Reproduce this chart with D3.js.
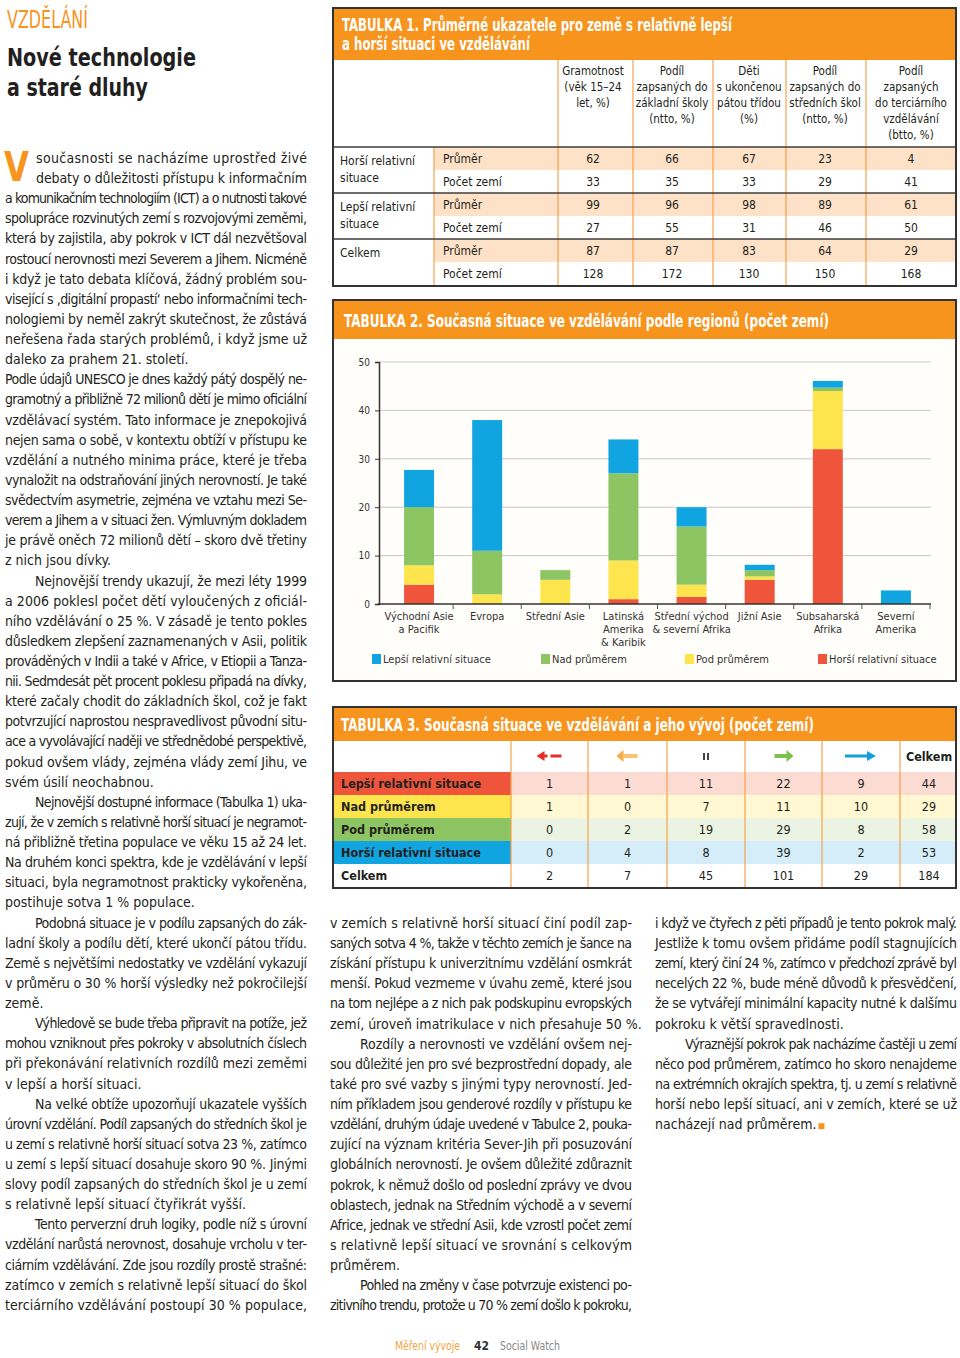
<!DOCTYPE html>
<html><head><meta charset="utf-8">
<script src="https://cdn.jsdelivr.net/npm/d3@7"></script>
<style>
html,body{margin:0;padding:0;background:#fff;}
svg{display:block;}
text{font-family:'Liberation Sans Narrow','Arial Narrow','Nimbus Sans Narrow','DejaVu Sans Condensed',sans-serif;font-stretch:condensed;}
</style></head><body>
<svg id="page" width="960" height="1358"></svg>
<script>
// ---------- DATA ----------
// Tabulka 2 (stacked bars, počet zemí)
const regionLabels = [["Východní Asie","a Pacifik"],["Evropa"],["Střední Asie"],["Latinská","Amerika","& Karibik"],["Střední východ","& severní Afrika"],["Jižní Asie"],["Subsaharská","Afrika"],["Severní","Amerika"]];
const worseVals  = [4, 0, 0, 1, 1.5, 5, 32, 0];     // Horší relativní situace (red)
const belowVals  = [4, 2, 5, 8, 2.5, 0.7, 12, 0];   // Pod průměrem (yellow)
const aboveVals  = [12, 9, 2, 18, 12, 1.3, 0.7, 0]; // Nad průměrem (green)
const betterVals = [7.7, 27, 0, 7, 4, 1.1, 1.4, 2.8]; // Lepší relativní situace (blue)
const yTicks = [0,10,20,30,40,50];
const legendLabels = ["Lepší relativní situace","Nad průměrem","Pod průměrem","Horší relativní situace"];

// Tabulka 1
const t1Headers = [["Gramotnost","(věk 15–24","let, %)"],["Podíl","zapsaných do","základní školy","(ntto, %)"],["Děti","s ukončenou","pátou třídou","(%)"],["Podíl","zapsaných do","středních škol","(ntto, %)"],["Podíl","zapsaných","do terciárního","vzdělávání","(btto, %)"]];
const t1Groups = [["Horší relativní","situace"],["Lepší relativní","situace"],["Celkem"]];
const t1Avg   = [[62,66,67,23,4],[99,96,98,89,61],[87,87,83,64,29]];
const t1Count = [[33,35,33,29,41],[27,55,31,46,50],[128,172,130,150,168]];

// Tabulka 3
const t3Rows = ["Lepší relativní situace","Nad průměrem","Pod průměrem","Horší relativní situace"];
const t3Values = [[1,1,11,22,9,44],[1,0,7,11,10,29],[0,2,19,29,8,58],[0,4,8,39,2,53]];
const t3Totals = [2,7,45,101,29,184];

// ---------- STYLE ----------
const ORANGE = "#F7941E", RED = "#EE553B", YELLOW = "#FEE54E", GREEN = "#8DC563", BLUE = "#10A4E0";
const DARK = "#231F20";
const svg = d3.select("#page");
svg.append("rect").attr("width",960).attr("height",1358).attr("fill","#fff");

// ---------- HEADER ----------
svg.append("text").attr("x",7).attr("y",28).attr("font-size",25).attr("fill",ORANGE)
  .attr("textLength",81).attr("lengthAdjust","spacingAndGlyphs").text("VZDĚLÁNÍ");
svg.append("text").attr("x",7).attr("y",66).attr("font-size",25.5).attr("font-weight","bold").attr("fill",DARK)
  .attr("textLength",189).attr("lengthAdjust","spacingAndGlyphs").text("Nové technologie");
svg.append("text").attr("x",7).attr("y",96).attr("font-size",25.5).attr("font-weight","bold").attr("fill",DARK)
  .attr("textLength",141).attr("lengthAdjust","spacingAndGlyphs").text("a staré dluhy");

// ---------- BODY TEXT ----------
const colLeft = [
 {indent:0, drop:true, lines:["současnosti se nacházíme uprostřed živé","debaty o důležitosti přístupu k informačním","a komunikačním technologiím (ICT) a o nutnosti takové","spolupráce rozvinutých zemí s rozvojovými zeměmi,","která by zajistila, aby pokrok v ICT dál nezvětšoval","rostoucí nerovnosti mezi Severem a Jihem. Nicméně","i když je tato debata klíčová, žádný problém sou-","visející s ‚digitální propastí‘ nebo informačními tech-","nologiemi by neměl zakrýt skutečnost, že zůstává","neřešena řada starých problémů, i když jsme už","daleko za prahem 21. století."]},
 {indent:0, lines:["Podle údajů UNESCO je dnes každý pátý dospělý ne-","gramotný a přibližně 72 milionů dětí je mimo oficiální","vzdělávací systém. Tato informace je znepokojivá","nejen sama o sobě, v kontextu obtíží v přístupu ke","vzdělání a nutného minima práce, které je třeba","vynaložit na odstraňování jiných nerovností. Je také","svědectvím asymetrie, zejména ve vztahu mezi Se-","verem a Jihem a v situaci žen. Výmluvným dokladem","je právě oněch 72 milionů dětí – skoro dvě třetiny","z nich jsou dívky."]},
 {indent:30, lines:["Nejnovější trendy ukazují, že mezi léty 1999","a 2006 poklesl počet dětí vyloučených z oficiál-","ního vzdělávání o 25 %. V zásadě je tento pokles","důsledkem zlepšení zaznamenaných v Asii, politik","prováděných v Indii a také v Africe, v Etiopii a Tanza-","nii. Sedmdesát pět procent poklesu připadá na dívky,","které začaly chodit do základních škol, což je fakt","potvrzující naprostou nespravedlivost původní situ-","ace a vyvolávající naději ve střednědobé perspektivě,","pokud ovšem vlády, zejména vlády zemí Jihu, ve","svém úsilí neochabnou."]},
 {indent:30, lines:["Nejnovější dostupné informace (Tabulka 1) uka-","zují, že v zemích s relativně horší situací je negramot-","ná přibližně třetina populace ve věku 15 až 24 let.","Na druhém konci spektra, kde je vzdělávání v lepší","situaci, byla negramotnost prakticky vykořeněna,","postihuje sotva 1 % populace."]},
 {indent:30, lines:["Podobná situace je v podílu zapsaných do zák-","ladní školy a podílu dětí, které ukončí pátou třídu.","Země s největšími nedostatky ve vzdělání vykazují","v průměru o 30 % horší výsledky než pokročilejší","země."]},
 {indent:30, lines:["Výhledově se bude třeba připravit na potíže, jež","mohou vzniknout přes pokroky v absolutních číslech","při překonávání relativních rozdílů mezi zeměmi","v lepší a horší situaci."]},
 {indent:30, lines:["Na velké obtíže upozorňují ukazatele vyšších","úrovní vzdělání. Podíl zapsaných do středních škol je","u zemí s relativně horší situací sotva 23 %, zatímco","u zemí s lepší situací dosahuje skoro 90 %. Jinými","slovy podíl zapsaných do středních škol je u zemí","s relativně lepší situací čtyřikrát vyšší."]},
 {indent:30, cont:true, lines:["Tento perverzní druh logiky, podle níž s úrovní","vzdělání narůstá nerovnost, dosahuje vrcholu v ter-","ciárním vzdělávání. Zde jsou rozdíly prostě strašné:","zatímco v zemích s relativně lepší situací do škol","terciárního vzdělávání postoupí 30 % populace,"]}
];
const colMid = [
 {indent:0, lines:["v zemích s relativně horší situací činí podíl zap-","saných sotva 4 %, takže v těchto zemích je šance na","získání přístupu k univerzitnímu vzdělání osmkrát","menší. Pokud vezmeme v úvahu země, které jsou","na tom nejlépe a z nich pak podskupinu evropských","zemí, úroveň imatrikulace v nich přesahuje 50 %."]},
 {indent:30, lines:["Rozdíly a nerovnosti ve vzdělání ovšem nej-","sou důležité jen pro své bezprostřední dopady, ale","také pro své vazby s jinými typy nerovností. Jed-","ním příkladem jsou genderové rozdíly v přístupu ke","vzdělání, druhým údaje uvedené v Tabulce 2, pouka-","zující na význam kritéria Sever-Jih při posuzování","globálních nerovností. Je ovšem důležité zdůraznit","pokrok, k němuž došlo od poslední zprávy ve dvou","oblastech, jednak na Středním východě a v severní","Africe, jednak ve střední Asii, kde vzrostl počet zemí","s relativně lepší situací ve srovnání s celkovým","průměrem."]},
 {indent:30, cont:true, lines:["Pohled na změny v čase potvrzuje existenci po-","zitivního trendu, protože u 70 % zemí došlo k pokroku,"]}
];
const colRight = [
 {indent:0, lines:["i když ve čtyřech z pěti případů je tento pokrok malý.","Jestliže k tomu ovšem přidáme podíl stagnujících","zemí, který činí 24 %, zatímco v předchozí zprávě byl","necelých 22 %, bude méně důvodů k přesvědčení,","že se vytvářejí minimální kapacity nutné k dalšímu","pokroku k větší spravedlnosti."]},
 {indent:30, end:true, lines:["Výraznější pokrok pak nacházíme častěji u zemí","něco pod průměrem, zatímco ho skoro nenajdeme","na extrémních okrajích spektra, tj. u zemí s relativně","horší nebo lepší situací, ani v zemích, které se už","nacházejí nad průměrem."]}
];

function drawColumn(paras, x0, x1, yBase) {
  const g = svg.append("g");
  let li = 0;
  paras.forEach(p => {
    p.lines.forEach((ln, k) => {
      const last = (k === p.lines.length - 1) && !p.cont;
      let ind = (k === 0) ? p.indent : 0;
      if (p.drop && k < 2) ind = 31;
      const t = g.append("text").attr("x", x0 + ind).attr("y", yBase + li * 20.12)
        .attr("font-size", 14).attr("fill", DARK).text(ln);
      if (!last) t.attr("textLength", x1 - x0 - ind).attr("lengthAdjust", "spacing");
      if (last && p.end) {
        const w = t.node().getComputedTextLength();
        g.append("rect").attr("x", x0 + ind + w + 2).attr("y", yBase + li*20.12 - 6).attr("width",6).attr("height",6).attr("fill",ORANGE);
      }
      li++;
    });
  });
}
drawColumn(colLeft, 5, 307, 163);
drawColumn(colMid, 330, 632, 928);
drawColumn(colRight, 655, 957, 928);
// drop cap
svg.append("text").attr("x",4).attr("y",180.5).attr("font-size",40).attr("font-weight","bold").attr("fill",ORANGE)
  .attr("textLength",25).attr("lengthAdjust","spacingAndGlyphs").text("V");

// ---------- TABLE 1 ----------
(function(){
  const g = svg.append("g");
  const L = 333, R = 956, T = 8, B = 286;
  g.append("rect").attr("x",L).attr("y",T).attr("width",R-L).attr("height",B-T).attr("fill","#fff");
  g.append("rect").attr("x",L).attr("y",T).attr("width",R-L).attr("height",52).attr("fill",ORANGE);
  g.append("text").attr("x",342).attr("y",31).attr("font-size",17).attr("font-weight","bold").attr("fill","#fff")
    .attr("textLength",390).attr("lengthAdjust","spacingAndGlyphs").text("TABULKA 1. Průměrné ukazatele pro země s relativně lepší");
  g.append("text").attr("x",342).attr("y",50).attr("font-size",17).attr("font-weight","bold").attr("fill","#fff")
    .attr("textLength",188).attr("lengthAdjust","spacingAndGlyphs").text("a horší situaci ve vzdělávání");
  const seps = [558, 633, 713, 786, 866];
  const centers = [593, 672, 749, 825, 911];
  const rowTop = 147, rh = 23;
  t1Groups.forEach((grp, gi) => {
    g.append("rect").attr("x",434).attr("y",rowTop + gi*2*rh).attr("width",R-434).attr("height",rh).attr("fill","#FDE2C8");
  });
  seps.forEach(s => g.append("line").attr("x1",s).attr("x2",s).attr("y1",60).attr("y2",B).attr("stroke","#F5A24B").attr("stroke-width",1.2));
  g.append("line").attr("x1",434).attr("x2",434).attr("y1",rowTop).attr("y2",B).attr("stroke","#F5A24B").attr("stroke-width",1.2);
  t1Headers.forEach((h, ci) => {
    h.forEach((ln, k) => g.append("text").attr("x",centers[ci]).attr("y",75 + k*16).attr("text-anchor","middle")
      .attr("font-size",11.5).attr("fill",DARK).text(ln));
  });
  t1Groups.forEach((grp, gi) => {
    const gy = rowTop + gi*2*rh;
    grp.forEach((ln,k) => g.append("text").attr("x",340).attr("y",gy + 18 + k*17).attr("font-size",12).attr("fill",DARK).text(ln));
    ["Průměr","Počet zemí"].forEach((lab, r) => {
      g.append("text").attr("x",443).attr("y",gy + r*rh + 16).attr("font-size",12).attr("fill",DARK).text(lab);
      const vals = r === 0 ? t1Avg[gi] : t1Count[gi];
      vals.forEach((v, ci) => g.append("text").attr("x",centers[ci]).attr("y",gy + r*rh + 16).attr("text-anchor","middle")
        .attr("font-size",12).attr("fill",DARK).text(v));
    });
    g.append("line").attr("x1",L).attr("x2",R).attr("y1",gy).attr("y2",gy).attr("stroke","#3c3c3c").attr("stroke-width",1.5);
  });
  g.append("rect").attr("x",L).attr("y",T).attr("width",R-L).attr("height",B-T).attr("fill","none").attr("stroke","#333").attr("stroke-width",2);
})();

// ---------- TABLE 2 (CHART) ----------
(function(){
  const g = svg.append("g");
  const L = 333, R = 956, T = 300, B = 681;
  g.append("rect").attr("x",L).attr("y",T).attr("width",R-L).attr("height",B-T).attr("fill","#FFFEFA");
  g.append("rect").attr("x",L).attr("y",T).attr("width",R-L).attr("height",39).attr("fill",ORANGE);
  g.append("text").attr("x",344).attr("y",327).attr("font-size",17).attr("font-weight","bold").attr("fill","#fff")
    .attr("textLength",485).attr("lengthAdjust","spacingAndGlyphs").text("TABULKA 2. Současná situace ve vzdělávání podle regionů (počet zemí)");

  const rows = regionLabels.map((r,i) => ({i, worse:worseVals[i], below:belowVals[i], above:aboveVals[i], better:betterVals[i]}));
  const keys = ["worse","below","above","better"];
  const colors = {worse:RED, below:YELLOW, above:GREEN, better:BLUE};
  const x = d3.scaleBand().domain(d3.range(regionLabels.length)).range([385,930]).paddingInner(0.56).paddingOuter(0.28);
  const y = d3.scaleLinear().domain([0,50]).range([604,362]);

  g.append("g").selectAll("line").data(yTicks.filter(d=>d>0)).join("line")
    .attr("x1",379).attr("x2",931).attr("y1",d=>y(d)).attr("y2",d=>y(d)).attr("stroke","#c9c9c9").attr("stroke-width",1);

  const series = d3.stack().keys(keys)(rows);
  g.append("g").selectAll("g").data(series).join("g").attr("fill",d=>colors[d.key])
    .selectAll("rect").data(d=>d).join("rect")
    .attr("x",d=>x(d.data.i)).attr("width",x.bandwidth())
    .attr("y",d=>y(d[1])).attr("height",d=>Math.max(0,y(d[0])-y(d[1])));

  const ya = g.append("g").attr("transform","translate(379,0)")
    .call(d3.axisLeft(y).tickValues(yTicks).tickSize(4).tickPadding(5));
  ya.select(".domain").attr("stroke","#333").attr("stroke-width",1.5);
  ya.selectAll(".tick line").attr("stroke","#333");
  ya.selectAll(".tick text").attr("font-size",10).attr("fill","#333")
    .style("font-family","'Liberation Sans Narrow','Arial Narrow','DejaVu Sans Condensed',sans-serif");
  g.append("line").attr("x1",378).attr("x2",931).attr("y1",y(0)).attr("y2",y(0)).attr("stroke","#333").attr("stroke-width",1.5);
  const bounds = d3.range(1, regionLabels.length + 1).map(k => x.range()[0] + k*x.step());
  g.append("g").selectAll("line").data(bounds).join("line")
    .attr("x1",d=>d).attr("x2",d=>d).attr("y1",y(0)).attr("y2",y(0)+5).attr("stroke","#555");
  regionLabels.forEach((lab,i) => {
    lab.forEach((ln,k) => g.append("text").attr("x",x(i)+x.bandwidth()/2).attr("y",620 + k*13)
      .attr("text-anchor","middle").attr("font-size",11).attr("fill","#333").text(ln));
  });
  const legX = [372, 541, 685, 818];
  const legC = [BLUE, GREEN, YELLOW, RED];
  legendLabels.forEach((lab,i) => {
    g.append("rect").attr("x",legX[i]).attr("y",654).attr("width",9).attr("height",10).attr("fill",legC[i]);
    g.append("text").attr("x",legX[i]+11).attr("y",663).attr("font-size",11).attr("fill","#333").text(lab);
  });
  g.append("rect").attr("x",L).attr("y",T).attr("width",R-L).attr("height",B-T).attr("fill","none").attr("stroke","#333").attr("stroke-width",2);
})();

// ---------- TABLE 3 ----------
(function(){
  const g = svg.append("g");
  const L = 333, R = 956, T = 707, B = 888;
  g.append("rect").attr("x",L).attr("y",T).attr("width",R-L).attr("height",B-T).attr("fill","#fff");
  g.append("rect").attr("x",L).attr("y",T).attr("width",R-L).attr("height",34).attr("fill",ORANGE);
  g.append("text").attr("x",341).attr("y",731).attr("font-size",17).attr("font-weight","bold").attr("fill","#fff")
    .attr("textLength",473).attr("lengthAdjust","spacingAndGlyphs").text("TABULKA 3. Současná situace ve vzdělávání a jeho vývoj (počet zemí)");
  const seps = [511, 588, 667, 745, 822, 900];
  const centers = [549.5, 627.5, 706, 783.5, 861, 929];
  const rowTop = 772, rh = 23;
  const labFill = [RED, YELLOW, GREEN, BLUE];
  const rowFill = ["#FCDCD2", "#FFF8D2", "#EBF4E2", "#D4EDF9"];
  t3Rows.forEach((lab, ri) => {
    const ry = rowTop + ri*rh;
    g.append("rect").attr("x",L).attr("y",ry).attr("width",511-L).attr("height",rh).attr("fill",labFill[ri]);
    g.append("rect").attr("x",511).attr("y",ry).attr("width",R-511).attr("height",rh).attr("fill",rowFill[ri]);
  });
  seps.forEach(s => g.append("line").attr("x1",s).attr("x2",s).attr("y1",741).attr("y2",B).attr("stroke","#F5A24B").attr("stroke-width",1.2));
  t3Rows.forEach((lab, ri) => {
    const ry = rowTop + ri*rh;
    g.append("text").attr("x",341).attr("y",ry+16).attr("font-size",12.5).attr("font-weight","bold").attr("fill",DARK).text(lab);
    t3Values[ri].forEach((v,ci) => g.append("text").attr("x",centers[ci]).attr("y",ry+16).attr("text-anchor","middle")
      .attr("font-size",12.5).attr("fill",DARK).text(v));
  });
  const ty = rowTop + 4*rh;
  g.append("text").attr("x",341).attr("y",ty+16).attr("font-size",12.5).attr("font-weight","bold").attr("fill",DARK).text("Celkem");
  t3Totals.forEach((v,ci) => g.append("text").attr("x",centers[ci]).attr("y",ty+16).attr("text-anchor","middle")
      .attr("font-size",12.5).attr("fill",DARK).text(v));
  const hy = 756;
  let c = centers[0];
  g.append("path").attr("d",`M${c-13},${hy} L${c-5},${hy-5} L${c-5},${hy+5} Z`).attr("fill","#E52E2B");
  g.append("rect").attr("x",c-6).attr("y",hy-1.5).attr("width",4).attr("height",3).attr("fill","#E52E2B");
  g.append("rect").attr("x",c+1).attr("y",hy-1.5).attr("width",11).attr("height",3).attr("fill","#E52E2B");
  c = centers[1];
  g.append("path").attr("d",`M${c-11},${hy} L${c-4},${hy-6} L${c-4},${hy+6} Z`).attr("fill","#F7A940");
  g.append("rect").attr("x",c-5).attr("y",hy-2).attr("width",15).attr("height",4).attr("fill","#F9C173");
  c = centers[2];
  g.append("rect").attr("x",c-3).attr("y",hy-3).attr("width",2).attr("height",7).attr("fill","#444");
  g.append("rect").attr("x",c+1).attr("y",hy-3).attr("width",2).attr("height",7).attr("fill","#444");
  c = centers[3];
  g.append("rect").attr("x",c-9).attr("y",hy-2).attr("width",13).attr("height",4).attr("fill","#7DC04F");
  g.append("path").attr("d",`M${c+10},${hy} L${c+3},${hy-6} L${c+3},${hy+6} Z`).attr("fill","#7DC04F");
  c = centers[4];
  g.append("rect").attr("x",c-16).attr("y",hy-1.5).attr("width",24).attr("height",3).attr("fill","#139FDA");
  g.append("path").attr("d",`M${c+15},${hy} L${c+6},${hy-5} L${c+6},${hy+5} Z`).attr("fill","#139FDA");
  g.append("text").attr("x",centers[5]).attr("y",761).attr("text-anchor","middle").attr("font-size",12.5).attr("font-weight","bold").attr("fill",DARK).text("Celkem");
  g.append("rect").attr("x",L).attr("y",T).attr("width",R-L).attr("height",B-T).attr("fill","none").attr("stroke","#333").attr("stroke-width",2);
})();

// ---------- FOOTER ----------
svg.append("text").attr("x",395).attr("y",1350).attr("font-size",12).attr("fill","#F2A440")
  .attr("textLength",65).attr("lengthAdjust","spacingAndGlyphs").text("Měření vývoje");
svg.append("text").attr("x",474).attr("y",1350).attr("font-size",12).attr("font-weight","bold").attr("fill","#333").text("42");
svg.append("text").attr("x",500).attr("y",1350).attr("font-size",12).attr("fill","#888")
  .attr("textLength",60).attr("lengthAdjust","spacingAndGlyphs").text("Social Watch");
</script>
</body></html>
